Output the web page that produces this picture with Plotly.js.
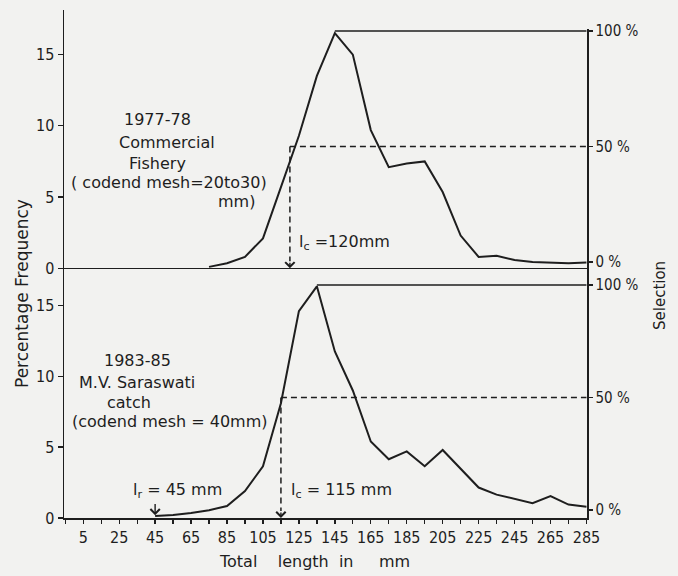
<!DOCTYPE html>
<html>
<head>
<meta charset="utf-8">
<script src="https://cdn.plot.ly/plotly-3.0.1.min.js"></script>
<style>
  html, body { margin: 0; padding: 0; background: #f2f2f0; }
  #chart { width: 678px; height: 576px; }
</style>
</head>
<body>
<div id="chart"></div>
<script>
// ---------------- data ----------------
const lengthsTop = [75, 85, 95, 105, 115, 125, 135, 145, 155, 165, 175, 185, 195, 205, 215, 225, 235, 245, 255, 265, 275, 285];
const freqTop    = [0.1, 0.35, 0.8, 2.1, 5.7, 9.3, 13.5, 16.5, 15.0, 9.7, 7.1, 7.35, 7.5, 5.35, 2.3, 0.8, 0.88, 0.58, 0.45, 0.38, 0.35, 0.4];

const lengthsBottom = [45, 55, 65, 75, 85, 95, 105, 115, 125, 135, 145, 155, 165, 175, 185, 195, 205, 215, 225, 235, 245, 255, 265, 275, 285];
const freqBottom    = [0.15, 0.22, 0.35, 0.55, 0.85, 1.9, 3.65, 8.1, 14.6, 16.35, 11.75, 9.0, 5.4, 4.15, 4.7, 3.65, 4.8, 3.5, 2.15, 1.65, 1.35, 1.05, 1.55, 0.95, 0.8];

const lcTop = 120;      // mm
const lcBottom = 115;   // mm
const lrBottom = 45;    // mm

const selectionLevels = [0, 50, 100];
const selectionLabels = ["0 %", "50 %", "100 %"];
const freqTickVals = [0, 5, 10, 15];
const xTickVals = [5, 25, 45, 65, 85, 105, 125, 145, 165, 185, 205, 225, 245, 265, 285];
const xTickLabels = ["5", "25", "45", "65", "85", "105", "125", "145", "165", "185", "205", "225", "245", "265", "285"];

// ---------------- layout geometry ----------------
const W = 678, H = 576;
const M = { l: 64, r: 91, t: 10, b: 58 };
const plotW = W - M.l - M.r, plotH = H - M.t - M.b;
const split = 0.4764;

const INK = '#1e1e1e';
const BG = '#f2f2f0';
const TICKFONT = { family: 'Liberation Sans Narrow, DejaVu Sans Condensed, Arial Narrow, sans-serif', size: 16, color: INK };
const RTICKFONT = { family: 'Liberation Sans Narrow, DejaVu Sans Condensed, Arial Narrow, sans-serif', size: 15, color: INK };
const TEXTFONT = { family: 'DejaVu Sans, sans-serif', size: 16, color: INK };

const ax = {
  y:  { domain: [0, split], range: [0, 17.08] },
  y2: { domain: [split, 1], range: [-0.54, 18.13] },
  y3: { domain: [0, split], range: [-3.56, 104] },
  y4: { domain: [split, 0.9626], range: [-6.06, 100.87] }
};
function valToPx(v, a) {
  const f = a.domain[0] + (v - a.range[0]) / (a.range[1] - a.range[0]) * (a.domain[1] - a.domain[0]);
  return M.t + (1 - f) * plotH;
}
function pxToVal(px, a) {
  const f = 1 - (px - M.t) / plotH;
  return a.range[0] + (f - a.domain[0]) / (a.domain[1] - a.domain[0]) * (a.range[1] - a.range[0]);
}
const px2fx = px => (px - M.l) / plotW;
const px2fy = py => (H - M.b - py) / plotH;

const half = selectionLevels[1], full = selectionLevels[2];
const freqHalfTop = pxToVal(valToPx(half, ax.y4), ax.y2);
const freqHalfBottom = pxToVal(valToPx(half, ax.y3), ax.y);
const peakLenTop = lengthsTop[freqTop.indexOf(Math.max(...freqTop))];
const peakLenBottom = lengthsBottom[freqBottom.indexOf(Math.max(...freqBottom))];
const lastLen = lengthsBottom[lengthsBottom.length - 1];

const solid = { color: INK, width: 2 };
const thin = { color: INK, width: 1.6 };
const dashed = { color: INK, width: 1.5, dash: '6px,4px' };

const traces = [
  { x: lengthsTop, y: freqTop, xaxis: 'x', yaxis: 'y2', mode: 'lines', line: solid },
  { x: lengthsBottom, y: freqBottom, xaxis: 'x', yaxis: 'y', mode: 'lines', line: solid },
  { x: [peakLenTop, lastLen], y: [full, full], xaxis: 'x', yaxis: 'y4', mode: 'lines', line: thin },
  { x: [lcTop, lastLen], y: [half, half], xaxis: 'x', yaxis: 'y4', mode: 'lines', line: dashed },
  { x: [lcTop, lcTop], y: [freqHalfTop, 0.5], xaxis: 'x', yaxis: 'y2', mode: 'lines', line: dashed },
  { x: [peakLenBottom, lastLen], y: [full, full], xaxis: 'x', yaxis: 'y3', mode: 'lines', line: thin },
  { x: [lcBottom, lastLen], y: [half, half], xaxis: 'x', yaxis: 'y3', mode: 'lines', line: dashed },
  { x: [lcBottom, lcBottom], y: [freqHalfBottom, 0.5], xaxis: 'x', yaxis: 'y', mode: 'lines', line: dashed }
];

function txt(text, px, py, xanchor, size) {
  return { text: text, x: px2fx(px), y: px2fy(py), xref: 'paper', yref: 'paper',
           xanchor: xanchor || 'center', yanchor: 'middle', showarrow: false,
           font: Object.assign({}, TEXTFONT, size ? { size: size } : {}) };
}
function arrowDown(xv, yv, tail, yref) {
  return { x: xv, y: yv, ax: xv, ay: tail, xref: 'x', yref: yref, axref: 'x', ayref: yref,
           text: '', showarrow: true, arrowhead: 4, arrowsize: 1.3, arrowwidth: 1.4, arrowcolor: INK, standoff: 0 };
}

const annotations = [
  txt('1977-78', 157, 120),
  txt('Commercial', 167, 142),
  txt('Fishery', 157, 163),
  txt('( codend mesh=20to30)', 169, 183),
  txt('mm)', 236, 201),
  txt('l<sub>c</sub> =120mm', 297, 243, 'left'),
  txt('1983-85', 137, 360),
  txt('M.V. Saraswati', 137, 382),
  txt('catch', 129, 402),
  txt('(codend mesh = 40mm)', 169, 421),
  txt('l<sub>r</sub> = 45 mm', 131, 490, 'left'),
  txt('l<sub>c</sub> = 115 mm', 289, 490, 'left'),
  Object.assign(txt('Percentage Frequency', 22, 294, 'center', 17), { textangle: -90 }),
  Object.assign(txt('Selection', 660, 296, 'center', 15), { textangle: -90 }),
  txt('Total\u00a0\u00a0\u00a0\u00a0length\u00a0\u00a0in\u00a0\u00a0\u00a0\u00a0\u00a0mm', 314, 561, 'center', 16),
  arrowDown(lcTop, 0, 0.5, 'y2'),
  arrowDown(lcBottom, 0, 0.5, 'y'),
  arrowDown(lrBottom, 0.2, 1.1, 'y')
];

const yBase = { showgrid: false, zeroline: false, showline: true, linecolor: INK, linewidth: 1.5,
                ticks: 'outside', ticklen: 5, tickwidth: 1.3, tickcolor: INK, tickfont: TICKFONT, fixedrange: true };

const layout = {
  width: W, height: H, margin: M, showlegend: false,
  paper_bgcolor: BG, plot_bgcolor: 'rgba(0,0,0,0)',
  xaxis: { domain: [0, 1], range: [-5.7, 285.3], anchor: 'y', showgrid: false, zeroline: false,
           showline: true, linecolor: INK, linewidth: 1.5, ticks: 'outside', ticklen: 4, tickwidth: 1.3, tickcolor: INK,
           tickmode: 'array', tickvals: xTickVals, ticktext: xTickLabels, tickfont: TICKFONT,
           minor: { tick0: 15, dtick: 20, ticks: 'outside', ticklen: 4, tickwidth: 1.3, tickcolor: INK, showgrid: false } },
  yaxis: Object.assign({}, yBase, { domain: ax.y.domain, range: ax.y.range, anchor: 'x', tickvals: freqTickVals }),
  yaxis2: Object.assign({}, yBase, { domain: ax.y2.domain, range: ax.y2.range, anchor: 'x', tickvals: freqTickVals,
           zeroline: true, zerolinecolor: INK, zerolinewidth: 1.5 }),
  yaxis3: Object.assign({}, yBase, { overlaying: 'y', side: 'right', anchor: 'x', range: ax.y3.range,
           tickvals: selectionLevels, ticktext: selectionLabels, ticklen: 4, tickfont: RTICKFONT }),
  yaxis4: Object.assign({}, yBase, { domain: ax.y4.domain, side: 'right', anchor: 'x', range: ax.y4.range,
           tickvals: selectionLevels, ticktext: selectionLabels, ticklen: 4, tickfont: RTICKFONT }),
  annotations: annotations
};

Plotly.newPlot('chart', traces, layout, { staticPlot: true, displayModeBar: false });
</script>
</body>
</html>
